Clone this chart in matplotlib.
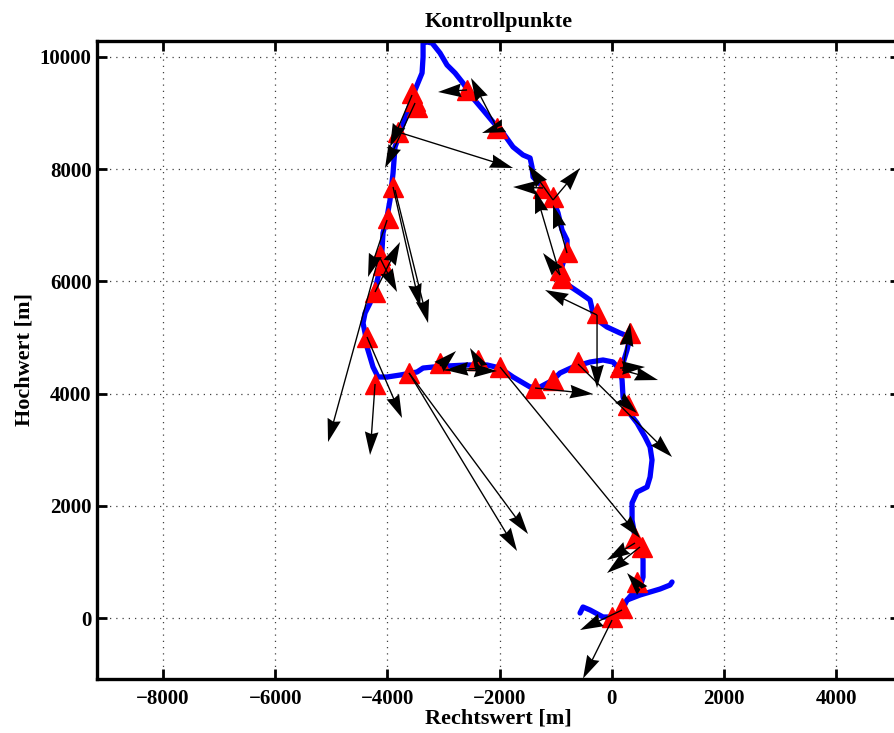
import matplotlib.pyplot as plt
import numpy as np

plt.rcParams['font.family'] = ['Liberation Serif', 'DejaVu Serif']
plt.rcParams['font.weight'] = 'bold'

# GPS-Track (Rechtswert, Hochwert) in m
track_x = [-565, -512, -387, -155, 23, 184, 273, 379, 504, 558, 558, 540, 415, 362, 362, 451,
           629, 683, 718, 683, 594, 451, 273, 201, 184, 148,
           201, 273, 326, 148, -84, -208, -333, -387, -565, -832, -922, -868, -797, -797, -886,
           -957, -1046, -1225, -1403, -1421, -1456, -1581, -1759, -1937, -2116, -2294, -2490,
           -2651, -2793, -2936, -3061, -3203, -3292, -3363, -3363, -3381, -3506, -3649, -3774,
           -3863, -3898, -3952, -4005, -4077, -4095, -4130, -4166, -4219, -4308, -4397, -4433,
           -4397, -4362, -4308, -4255, -4166, -4005, -3774, -3471, -3363, -3185, -2936, -2579,
           -2222, -1991, -1759, -1456, -1278, -1046, -922, -690, -387, -155, 23, 148]
track_y = [89, 196, 143, 18, 18, 143, 321, 446, 553, 731, 1034, 1212, 1444, 1747, 2050, 2246,
           2335, 2513, 2816, 3048, 3226, 3476, 3708, 3939, 4242, 4421,
           4545, 4777, 5009, 5080, 5187, 5276, 5437, 5668, 5793, 5971, 6150, 6328, 6506, 6738,
           6916, 7219, 7451, 7683, 7861, 8039, 8200, 8253, 8396, 8645, 8841, 9055, 9287, 9536,
           9715, 9857, 10071, 10249, 10267, 10249, 10000, 9715, 9412, 9002, 8645, 8396, 7932,
           7451, 7148, 6863, 6560, 6257, 6078, 5847, 5615, 5437, 5258, 5080, 4831, 4652, 4474,
           4296, 4296, 4331, 4385, 4456, 4474, 4492, 4510, 4510, 4456, 4296, 4118, 4118, 4242,
           4367, 4474, 4563, 4599, 4563, 4421]
branch_x = [273, 504, 861, 1039, 1075]
branch_y = [321, 410, 517, 588, 642]

# Kontrollpunkte
kp_x = [-3560, -3506, -3471, -3809, -3898, -3987, -4130, -4077, -4219, -4362, -4219, -3613,
        -3061, -2383, -1991, -1367, -1046, -601, 148, 326, 291, -262, -922, -886, -797,
        -1225, -1046, -2579, -2045, 415, 540, 451, 5, 184]
kp_y = [9358, 9216, 9109, 8663, 7683, 7130, 6470, 6292, 5811, 5009, 4171, 4367,
        4545, 4599, 4474, 4100, 4242, 4563, 4474, 5080, 3797, 5437, 6203, 6061, 6524,
        7665, 7504, 9412, 8734, 1426, 1266, 642, 18, 178]

# Verschiebungsvektoren: Fusspunkt und Spitze
vec_x0 = [-3560, -3506, -3809, -2579, -2045, -2045, -3898, -3863, -4005, -4130, -4166, -4219,
          -4362, -4219, -3613, -3613, -3061, -2971, -2383, -2258, -1991, -1367, -601, -262,
          -262, 201, 148, 184, 184, -922, -922, -797, -1046, -1225, -1046, 415, 504, 487, 184, 5]
vec_y0 = [9322, 9180, 8663, 9412, 8734, 8734, 7683, 7629, 7094, 6417, 6381, 5811,
          5009, 4171, 4367, 4367, 4492, 4421, 4563, 4456, 4474, 4100, 4528, 5401,
          5401, 4421, 4456, 4421, 3886, 6114, 6114, 6506, 7451, 7665, 7451, 1337, 1266, 553, 143, -36]
vec_x1 = [-3952, -4041, -1759, -3096, -2508, -2312, -3417, -3274, -4344, -3827, -5057, -3774,
          -3738, -4308, -1492, -1688, -2775, -2045, -2526, -2971, 504, -333, 1075, -1189,
          -262, 326, 594, 825, 451, -1367, -1225, -1046, -565, -1759, -1492, -84, -84, 273, -565, -512]
vec_y1 = [8396, 8021, 8021, 9376, 9626, 8645, 5544, 5258, 6078, 5811, 3137, 6702,
          3565, 2905, 1497, 1194, 4759, 4403, 4813, 4421, 1426, 3993, 2870, 5847,
          4100, 5258, 4474, 4242, 3654, 7629, 6506, 7362, 8021, 7683, 8075, 1034, 802, 802, -214, -1080]

fig = plt.figure(figsize=(8.94, 7.33), dpi=100)
ax = fig.add_axes([97 / 894, 54 / 733, 803 / 894, 638 / 733])

ax.plot(track_x, track_y, color='b', lw=3.8, solid_capstyle='round', solid_joinstyle='round', zorder=2)
ax.plot(branch_x, branch_y, color='b', lw=3.8, solid_capstyle='round', solid_joinstyle='round', zorder=2)
ax.plot(kp_x, kp_y, '^', color='r', mec='r', markersize=14, zorder=3)

u = np.array(vec_x1) - np.array(vec_x0)
v = np.array(vec_y1) - np.array(vec_y0)
ax.quiver(vec_x0, vec_y0, u, v, angles='xy', scale_units='xy', scale=1, color='k',
          width=0.0017, headwidth=10, headlength=17, headaxislength=15.5, minshaft=0.6, zorder=4)

ax.set_xlim(-9175, 5138)
ax.set_ylim(-1087, 10285)
ax.set_xticks(np.arange(-8000, 5001, 2000))
ax.set_yticks(np.arange(0, 10001, 2000))
ax.grid(True, linestyle=(0, (1, 4)), color='0.25', lw=0.9)
ax.tick_params(direction='in', length=7, width=2, top=True, right=True, labelsize=15, pad=7)
ax.tick_params(axis='y', pad=4)
for s in ax.spines.values():
    s.set_linewidth(2.4)

ax.set_title('Kontrollpunkte', fontsize=16, fontweight='bold', pad=10)
ax.set_xlabel('Rechtswert [m]', fontsize=16, fontweight='bold', labelpad=0)
ax.set_ylabel('Hochwert [m]', fontsize=16, fontweight='bold', labelpad=4)

fig.savefig('out.png', dpi=100)
